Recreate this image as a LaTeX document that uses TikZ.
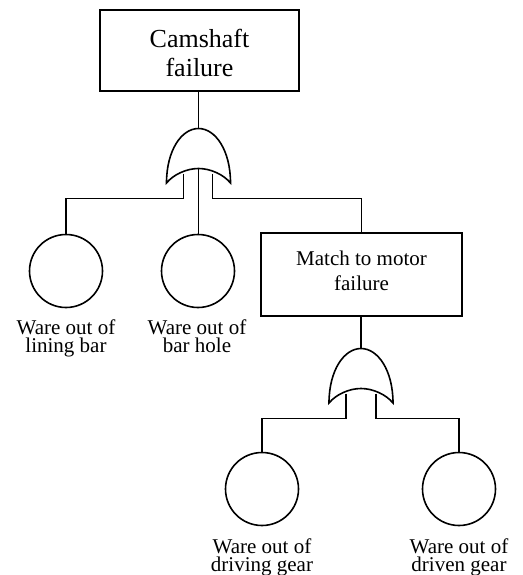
\documentclass[tikz,border=0pt]{standalone}
\usepackage{fontspec}
\setmainfont{Liberation Serif}
\usetikzlibrary{calc}
\begin{document}
\begin{tikzpicture}[x=1pt,y=-1pt,line width=1.6pt,
  box/.style={draw, rectangle, inner sep=0pt},
  event/.style={draw, circle, inner sep=0pt, minimum size=73pt},
  txt/.style={anchor=north, inner sep=0pt, align=center},
  lab/.style={txt, font=\fontsize{21}{18.5}\selectfont},
  orgate/.pic={
    \draw[fill=white] (0,0) .. controls (-17,0) and (-32,22) .. (-32,54.5)
      .. controls (-25,46) and (-12,40) .. (0,40)
      .. controls (12,40) and (25,46) .. (32,54.5)
      .. controls (32,22) and (17,0) .. cycle;
  }]
\useasboundingbox (0,0) rectangle (522,575);

% boxes
\node[box, minimum width=199pt, minimum height=81pt] (top) at (199.5,50.5) {};
\node[txt, font=\fontsize{26}{29}\selectfont] (toptext) at (199.5,28.5) {Camshaft\\failure};
\node[box, minimum width=201pt, minimum height=83pt] (mid) at (361.5,274.5) {};
\node[txt, font=\fontsize{21}{25}\selectfont] (midtext) at (361.5,250) {Match to motor\\failure};

% basic events
\node[event] (c1) at (66,271) {};
\node[event] (c2) at (198,271) {};
\node[event] (c3) at (262,489) {};
\node[event] (c4) at (459,489) {};

\node[lab] (l1) at (66,318.5) {Ware out of\\lining bar};
\node[lab] (l2) at (197,318.5) {Ware out of\\bar hole};
\node[lab] (l3) at (262,537.5) {Ware out of\\driving gear};
\node[lab] (l4) at (459,537.5) {Ware out of\\driven gear};

% gate positions (apex)
\coordinate (g1) at (198.5,128.5);
\coordinate (g2) at (361,348.5);
\coordinate (bus1) at (0,198.5);
\coordinate (bus2) at (0,418.5);
\coordinate (g1l) at ($(g1)+(-15,45)$);
\coordinate (g1m) at ($(g1)+(0,40)$);
\coordinate (g1r) at ($(g1)+(14,45)$);
\coordinate (g2l) at ($(g2)+(-15,45)$);
\coordinate (g2r) at ($(g2)+(15,45)$);

% connectors
\draw (top.south -| g1) -- (g1);
\draw (g1l) |- (c1.north |- bus1) -- (c1.north);
\draw (g1m) -- (g1m |- c2.north);
\draw (g1r) |- (mid.north |- bus1) -- (mid.north);
\draw (mid.south -| g2) -- (g2);
\draw (g2l) |- (c3.north |- bus2) -- (c3.north);
\draw (g2r) |- (c4.north |- bus2) -- (c4.north);

% gates
\pic at (g1) {orgate};
\pic at (g2) {orgate};
\end{tikzpicture}
\end{document}
